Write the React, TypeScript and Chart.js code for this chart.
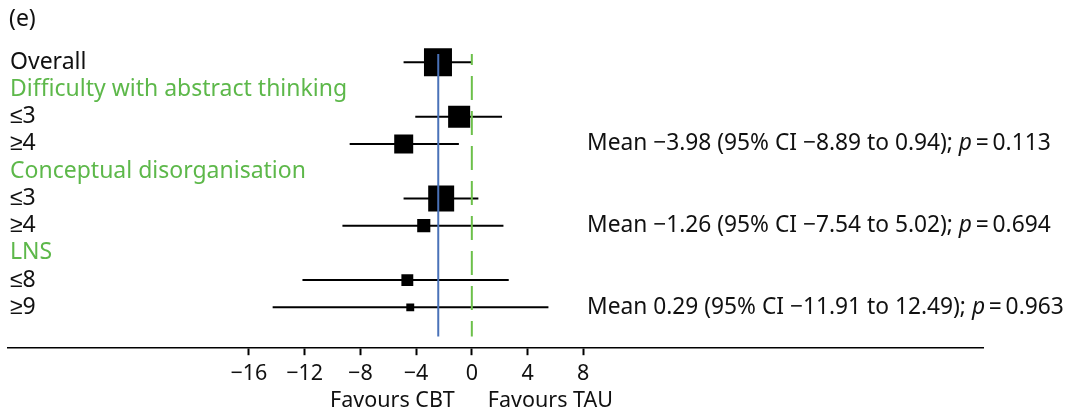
import React, { useEffect, useRef } from "react";
import { Chart, registerables } from "chart.js";

Chart.register(...registerables);

const ROW_LABELS = [
  "Overall",
  "Difficulty with abstract thinking",
  "≤3",
  "≥4",
  "Conceptual disorganisation",
  "≤3",
  "≥4",
  "LNS",
  "≤8",
  "≥9",
];
const HEADER_ROWS = [1, 4, 7];
const EST_ROWS = [0, 2, 3, 5, 6, 8, 9];
const MEANS = [-2.43, -0.91, -4.89, -2.2, -3.45, -4.63, -4.42];
const CI_LOW = [-4.9, -4.06, -8.77, -4.9, -9.29, -12.16, -14.3];
const CI_HIGH = [0.0, 2.17, -0.93, 0.47, 2.27, 2.65, 5.5];
const WEIGHTS = [100, 62, 46, 86, 22, 18, 8];
const OVERALL_MEAN = -2.41;
const X_TICKS = [-16, -12, -8, -4, 0, 4, 8];
const NOTE_ROWS = [3, 6, 9];
const NOTES = [
  ["Mean −3.98 (95% CI −8.89 to 0.94); ", "p", "\u2009=\u20090.113"],
  ["Mean −1.26 (95% CI −7.54 to 5.02); ", "p", "\u2009=\u20090.694"],
  ["Mean 0.29 (95% CI −11.91 to 12.49); ", "p", "\u2009=\u20090.963"],
];
const PANEL = "(e)";
const LEFT_TITLE = "Favours CBT";
const RIGHT_TITLE = "Favours TAU";

const FONT = '"Noto Sans", sans-serif';
const FS = 23;
const FS_NOTE = 22.75;
const FS_AX = 21.5;
const GREEN_TEXT = "#5db84a";
const GREEN_LINE = "#6cc04a";
const BLUE = "#4a72b8";

const textPlugin = {
  id: "forestText",
  afterDraw(chart: any) {
    const { ctx, chartArea, scales } = chart;
    const x = scales.x;
    const y = scales.y;
    ctx.save();
    ctx.textBaseline = "middle";
    ctx.font = `${FS}px ${FONT}`;
    ctx.textAlign = "left";
    ctx.fillStyle = "#111";
    ctx.fillText(PANEL, 9, 19);
    ROW_LABELS.forEach((lab, i) => {
      ctx.fillStyle = HEADER_ROWS.includes(i) ? GREEN_TEXT : "#111";
      ctx.fillText(lab, chartArea.left + 2, y.getPixelForValue(i));
    });
    NOTES.forEach((parts, k) => {
      const py = y.getPixelForValue(NOTE_ROWS[k]);
      let px = 587;
      ctx.fillStyle = "#111";
      ctx.font = `${FS_NOTE}px ${FONT}`;
      ctx.fillText(parts[0], px, py);
      px += ctx.measureText(parts[0]).width;
      ctx.font = `italic ${FS_NOTE}px ${FONT}`;
      ctx.fillText(parts[1], px, py);
      px += ctx.measureText(parts[1]).width;
      ctx.font = `${FS_NOTE}px ${FONT}`;
      ctx.fillText(parts[2], px, py);
    });
    const zx = x.getPixelForValue(0);
    ctx.font = `${FS_AX}px ${FONT}`;
    ctx.textAlign = "right";
    ctx.fillText(LEFT_TITLE, zx - 17, 401);
    ctx.textAlign = "left";
    ctx.fillText(RIGHT_TITLE, zx + 16, 401);
    ctx.restore();
  },
};

export default function App() {
  const ref = useRef<HTMLCanvasElement>(null);
  useEffect(() => {
    if (!ref.current) return;
    const ciSets = EST_ROWS.map((r, i) => ({
      type: "line" as const,
      data: [
        { x: CI_LOW[i], y: r },
        { x: CI_HIGH[i], y: r },
      ],
      borderColor: "#000",
      borderWidth: 2,
      pointRadius: 0,
      order: 3,
    }));
    const chart = new Chart(ref.current, {
      type: "scatter",
      data: {
        datasets: [
          ...ciSets,
          {
            type: "line" as const,
            data: [
              { x: 0, y: -0.3 },
              { x: 0, y: 10.07 },
            ],
            borderColor: GREEN_LINE,
            borderWidth: 2,
            borderDash: [24, 11],
            borderDashOffset: 13,
            pointRadius: 0,
            order: 2,
          },
          {
            type: "scatter" as const,
            data: EST_ROWS.map((r, i) => ({ x: MEANS[i], y: r })),
            pointStyle: "rect",
            pointRadius: WEIGHTS.map((w) => (28 * Math.sqrt(w / 100)) / Math.SQRT2),
            backgroundColor: "#000",
            borderColor: "#000",
            borderWidth: 0,
            order: 1,
          },
          {
            type: "line" as const,
            data: [
              { x: OVERALL_MEAN, y: -0.3 },
              { x: OVERALL_MEAN, y: 10.07 },
            ],
            borderColor: BLUE,
            borderWidth: 2,
            pointRadius: 0,
            order: 0,
          },
        ],
      },
      options: {
        responsive: false,
        animation: false,
        layout: { autoPadding: false, padding: { left: 8, right: 82, top: 35, bottom: 16 } },
        plugins: { legend: { display: false }, tooltip: { enabled: false } },
        scales: {
          x: {
            type: "linear",
            min: -33.3,
            max: 36.7,
            afterBuildTicks: (s: any) => {
              s.ticks = X_TICKS.map((v) => ({ value: v }));
            },
            afterFit: (s: any) => {
              s.paddingLeft = 0;
              s.paddingRight = 0;
            },
            grid: {
              drawOnChartArea: false,
              drawTicks: true,
              tickLength: 7,
              tickWidth: 2,
              tickColor: "#000",
            },
            border: { display: true, color: "#000", width: 1.5 },
            ticks: {
              color: "#111",
              font: { family: FONT, size: FS_AX },
              padding: 6,
              autoSkip: false,
              maxRotation: 0,
              callback: (v: any) => String(v).replace("-", "−"),
            },
          },
          y: {
            type: "linear",
            reverse: true,
            min: -1,
            max: 10.5,
            display: false,
          },
        },
      },
      plugins: [textPlugin],
    });
    return () => chart.destroy();
  }, []);
  return (
    <div style={{ position: "fixed", left: 0, top: 0, width: 1065, height: 409, background: "#fff" }}>
      <canvas ref={ref} width={1065} height={409} />
    </div>
  );
}
